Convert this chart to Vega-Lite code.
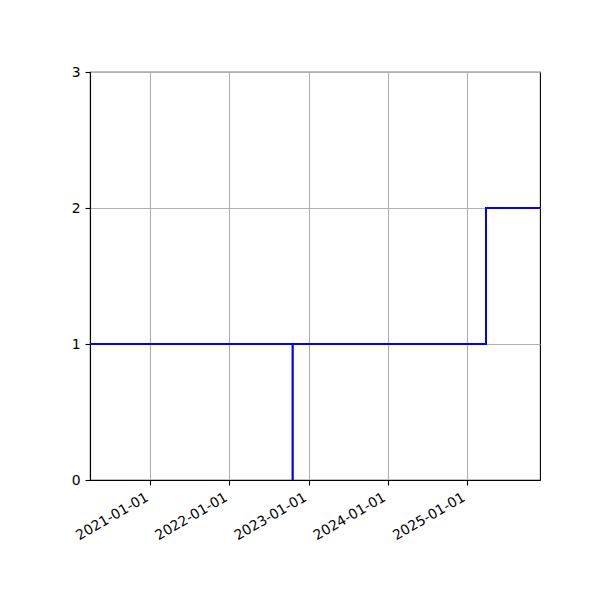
{
  "$schema": "https://vega.github.io/schema/vega-lite/v6.json",
  "width": 450,
  "height": 408,
  "autosize": {"type": "none"},
  "padding": {"left": 90, "top": 72, "right": 60, "bottom": 120},
  "background": "white",
  "data": {
    "values": [
      {"date": "2020-03-29", "value": 1},
      {"date": "2022-10-19", "value": 0},
      {"date": "2022-10-20", "value": 1},
      {"date": "2025-03-29", "value": 2},
      {"date": "2025-12-03", "value": 2}
    ]
  },
  "mark": {"type": "line", "interpolate": "step-after", "color": "#0000ff", "strokeWidth": 2, "clip": true},
  "encoding": {
    "x": {
      "field": "date",
      "type": "temporal",
      "scale": {
        "type": "utc",
        "domain": [
          {"year": 2020, "month": 3, "date": 29, "utc": true},
          {"year": 2025, "month": 12, "date": 3, "utc": true}
        ]
      },
      "axis": {
        "title": null,
        "values": [
          {"year": 2021, "month": 1, "date": 1, "utc": true},
          {"year": 2022, "month": 1, "date": 1, "utc": true},
          {"year": 2023, "month": 1, "date": 1, "utc": true},
          {"year": 2024, "month": 1, "date": 1, "utc": true},
          {"year": 2025, "month": 1, "date": 1, "utc": true}
        ],
        "labelExpr": "utcFormat(datum.value, '%Y-%m-%d')",
        "labelAngle": -30,
        "labelAlign": "right",
        "labelBaseline": "top",
        "labelPadding": 5,
        "labelOffset": -7
      }
    },
    "y": {
      "field": "value",
      "type": "quantitative",
      "scale": {"domain": [0, 3], "nice": false, "zero": false},
      "axis": {"title": null, "values": [0, 1, 2, 3], "format": "d", "labelPadding": 5}
    }
  },
  "config": {
    "view": {"stroke": "black", "strokeWidth": 1.1},
    "axis": {
      "domainColor": "black",
      "domainWidth": 1.1,
      "tickColor": "black",
      "tickWidth": 1.1,
      "tickSize": 5,
      "gridColor": "#b0b0b0",
      "gridWidth": 1.1,
      "gridOpacity": 1,
      "labelFont": "DejaVu Sans",
      "labelFontSize": 13.9,
      "labelColor": "black",
      "labelFlush": false,
      "labelOverlap": false
    }
  }
}
